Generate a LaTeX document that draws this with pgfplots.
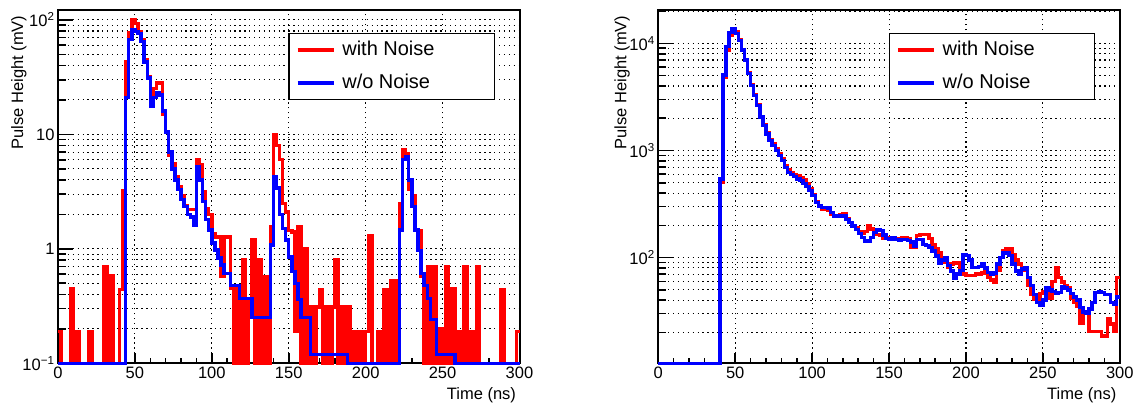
\documentclass[border=0pt]{standalone}
\usepackage{fontspec}
\setmainfont{Liberation Sans}
\usepackage{pgfplots}
\pgfplotsset{compat=1.18}
\usepackage{pgfplotstable}

\pgfplotstableread{
x r b
0 0.19 0.1
2 0.1 0.1
4 0.1 0.1
6 0.1 0.1
8 0.45 0.1
10 0.1 0.1
12 0.19 0.1
14 0.1 0.1
16 0.1 0.1
18 0.1 0.1
20 0.19 0.1
22 0.1 0.1
24 0.1 0.1
26 0.1 0.1
28 0.1 0.1
30 0.7 0.1
32 0.1 0.1
34 0.58 0.1
36 0.1 0.1
38 0.1 0.1
40 0.44 0.1
42 3.2 0.1
44 43 21
46 77 67
48 100 82
50 93 79
52 79 76
54 67 65
56 45 43
58 32 31
60 20 17.5
62 25 21
64 28 23
66 28 22
68 15 16
70 10.5 10.5
72 6.5 7.0
74 5.5 5.0
76 4.3 4.0
78 3.5 3.3
80 2.9 2.7
82 2.4 2.35
84 2.2 2.0
86 2.2 1.9
88 2.2 1.6
90 6.0 5.2
92 5.4 4.0
94 3.15 2.6
96 2.26 1.8
98 2.0 1.46
100 1.36 1.12
102 1.27 0.98
104 1.27 0.83
106 0.57 0.72
108 1.27 0.61
110 1.27 0.61
112 0.45 0.48
114 0.1 0.48
116 0.45 0.48
118 0.1 0.37
120 0.8 0.37
122 0.1 0.37
124 0.36 0.37
126 1.19 0.25
128 0.1 0.25
130 0.8 0.25
132 0.1 0.25
134 0.57 0.25
136 0.1 0.25
138 1.56 1.08
140 9.9 4.3
142 8.0 3.4
144 6.0 2.0
146 2.5 1.5
148 2.1 1.19
150 1.45 0.85
152 1.4 0.63
154 0.19 0.5
156 1.56 0.36
158 0.1 0.25
160 1.0 0.25
162 0.1 0.25
164 0.31 0.12
166 0.1 0.12
168 0.31 0.12
170 0.44 0.12
172 0.1 0.12
174 0.31 0.12
176 0.1 0.12
178 0.31 0.12
180 0.8 0.12
182 0.1 0.12
184 0.31 0.12
186 0.1 0.12
188 0.31 0.1
190 0.1 0.1
192 0.19 0.1
194 0.1 0.1
196 0.19 0.1
198 0.1 0.1
200 0.19 0.1
202 1.3 0.1
204 0.1 0.1
206 0.1 0.1
208 0.19 0.1
210 0.1 0.1
212 0.44 0.1
214 0.1 0.1
216 0.53 0.1
218 0.1 0.1
220 0.53 0.1
222 2.5 1.46
224 7.3 6.0
226 6.8 6.4
228 3.3 4.0
230 2.9 2.33
232 1.45 1.46
234 1.45 0.97
236 0.57 0.61
238 0.1 0.48
240 0.7 0.37
242 0.1 0.24
244 0.7 0.24
246 0.1 0.12
248 0.2 0.12
250 0.1 0.12
252 0.7 0.12
254 0.1 0.12
256 0.45 0.12
258 0.1 0.1
260 0.19 0.1
262 0.1 0.1
264 0.7 0.1
266 0.1 0.1
268 0.19 0.1
270 0.1 0.1
272 0.7 0.1
274 0.1 0.1
276 0.1 0.1
278 0.1 0.1
280 0.1 0.1
282 0.1 0.1
284 0.1 0.1
286 0.1 0.1
288 0.44 0.1
290 0.1 0.1
292 0.1 0.1
294 0.1 0.1
296 0.1 0.1
298 0.19 0.1
300 0.19 0.1
}\leftdata

\pgfplotstableread{
x r b
0 10.3 10.3
2 10.3 10.3
4 10.3 10.3
6 10.3 10.3
8 10.3 10.3
10 10.3 10.3
12 10.3 10.3
14 10.3 10.3
16 10.3 10.3
18 10.3 10.3
20 10.3 10.3
22 10.3 10.3
24 10.3 10.3
26 10.3 10.3
28 10.3 10.3
30 10.3 10.3
32 10.3 10.3
34 10.3 10.3
36 10.3 10.3
38 10.3 10.3
40 505 540
42 4800 5050
44 8650 9300
46 12000 12600
48 13500 13800
50 12800 12400
52 10900 10700
54 8800 8650
56 7000 6970
58 5300 5230
60 4100 4060
62 3300 3270
64 2650 2640
66 2080 2050
68 1730 1710
70 1450 1430
72 1270 1240
74 1150 1110
76 1050 1000
78 930 896
80 830 803
82 720 695
84 660 625
86 620 594
88 600 569
90 580 542
92 560 523
94 530 492
96 490 458
98 440 421
100 390 378
102 330 327
104 300 304
106 285 293
108 280 293
110 275 290
112 255 263
114 245 245
116 245 245
118 250 242
120 255 245
122 230 228
124 212 212
126 200 197
128 190 184
130 175 167
132 168 153
134 175 143
136 200 141
138 185 153
140 165 171
142 165 184
144 160 180
146 152 163
148 150 151
150 152 148
152 150 153
154 148 148
156 150 145
158 152 148
160 152 148
162 150 145
164 124 140
166 124 128
168 160 148
170 165 148
172 165 133
174 165 130
176 150 124
178 133 115
180 120 103
182 110 89
184 97 95
186 90 100
188 81 84
190 87 75
192 89 64
194 89 70
196 80 76
198 70 107
200 68 104
202 68 95
204 68 81
206 70 81
208 70 83
210 72 87
212 76 80
214 65 73
216 62 70
218 59 72
220 76 87
222 100 100
224 115 110
226 120 112
228 120 105
230 107 87
232 95 75
234 87 70
236 80 78
238 76 81
240 55 65
242 45 55
244 41 45
246 41 38
248 46 36
250 48 40
252 46 52
254 42 50
256 60 48
258 80 46
260 65 47
262 59 53
264 55 52
266 52 50
268 42 46
270 38 43
272 35 40
274 24.5 34
276 30 31
278 31 30
280 20.5 33
282 20.5 38
284 20.5 47
286 20.5 48
288 18.5 47
290 18.5 45
292 27 45
294 24 38
296 20.5 37
298 65 43
300 65 43
}\rightdata

\pgfplotsset{
  legend image code/.code={\draw[#1] (0pt,0pt) -- (36pt,0pt);},
  scale only axis, width=461.5pt, height=353.3pt,
  xmin=0, xmax=300,
  axis line style={line width=2pt, black},
  tick pos=left, tick align=inside,
  xtick={0,50,...,300}, minor x tick num=4,
  major tick length=12pt, minor tick length=6pt,
  xtick style={/pgfplots/major tick length=10pt, /pgfplots/minor tick length=5pt},
  ytick style={/pgfplots/major tick length=15pt, /pgfplots/minor tick length=8pt},
  every tick/.style={black, line width=1.6pt},
  xmajorgrids, ymajorgrids, yminorgrids,
  grid style={black, line width=1.1pt, dash pattern=on 1.3pt off 3.6pt},
  minor grid style={black, line width=1.1pt, dash pattern=on 1.3pt off 3.6pt},
  tick label style={font=\fontsize{16.5}{18}\selectfont},
  label style={font=\fontsize{16.5}{18}\selectfont},
  clip=false,
  legend cell align=left,
  legend style={at={(axis description cs:0.499,0.935)}, anchor=north west,
    draw=black, line width=1.3pt, fill=white,
    font=\fontsize{20}{24}\selectfont,
    inner xsep=7pt, inner ysep=7pt, row sep=14pt, column sep=7pt,
    nodes={inner sep=0pt, text height=14.5pt, text depth=4.5pt}},
}

\begin{document}
\begin{tikzpicture}
\useasboundingbox (0,0) rectangle (1140pt,403pt);
\begin{axis}[ymode=log,
  at={(58pt,39.7pt)}, anchor=south west,
  ymin=0.1, ymax=122,
  ytick={0.1,1,10,100},
  yticklabels={10\textsuperscript{−1},1,10,10\textsuperscript{2}},
  minor ytick={0.2,0.3,0.4,0.5,0.6,0.7,0.8,0.9,2,3,4,5,6,7,8,9,20,30,40,50,60,70,80,90},
  xlabel={Time (ns)},
  xlabel style={at={(axis description cs:1,-0.102)}, anchor=base east},
  ylabel={Pulse Height (mV)},
  ylabel style={at={(axis description cs:-0.0846,0.994)}, anchor=east},
  /pgf/number format/assume math mode=true,
]
\addplot[const plot, red, line width=3.4pt] table[x=x, y=r] {\leftdata};
\addlegendentry{\makebox[145pt][l]{with Noise}}
\addplot[const plot, blue, line width=3.4pt] table[x=x, y=b] {\leftdata};
\addlegendentry{\makebox[145pt][l]{w/o Noise}}
\end{axis}
\begin{axis}[ymode=log,
  at={(658.3pt,39.7pt)}, anchor=south west,
  ymin=10.3, ymax=20500,
  ytick={100,1000,10000},
  yticklabels={10\textsuperscript{2},10\textsuperscript{3},10\textsuperscript{4}},
  minor ytick={20,30,40,50,60,70,80,90,200,300,400,500,600,700,800,900,2000,3000,4000,5000,6000,7000,8000,9000,20000},
  xlabel={Time (ns)},
  xlabel style={at={(axis description cs:1,-0.102)}, anchor=base east},
  ylabel={Pulse Height (mV)},
  ylabel style={at={(axis description cs:-0.0786,0.994)}, anchor=east},
  /pgf/number format/assume math mode=true,
]
\addplot[const plot, red, line width=3.4pt] table[x=x, y=r] {\rightdata};
\addlegendentry{\makebox[145pt][l]{with Noise}}
\addplot[const plot, blue, line width=3.4pt] table[x=x, y=b] {\rightdata};
\addlegendentry{\makebox[145pt][l]{w/o Noise}}
\end{axis}
\end{tikzpicture}
\end{document}
